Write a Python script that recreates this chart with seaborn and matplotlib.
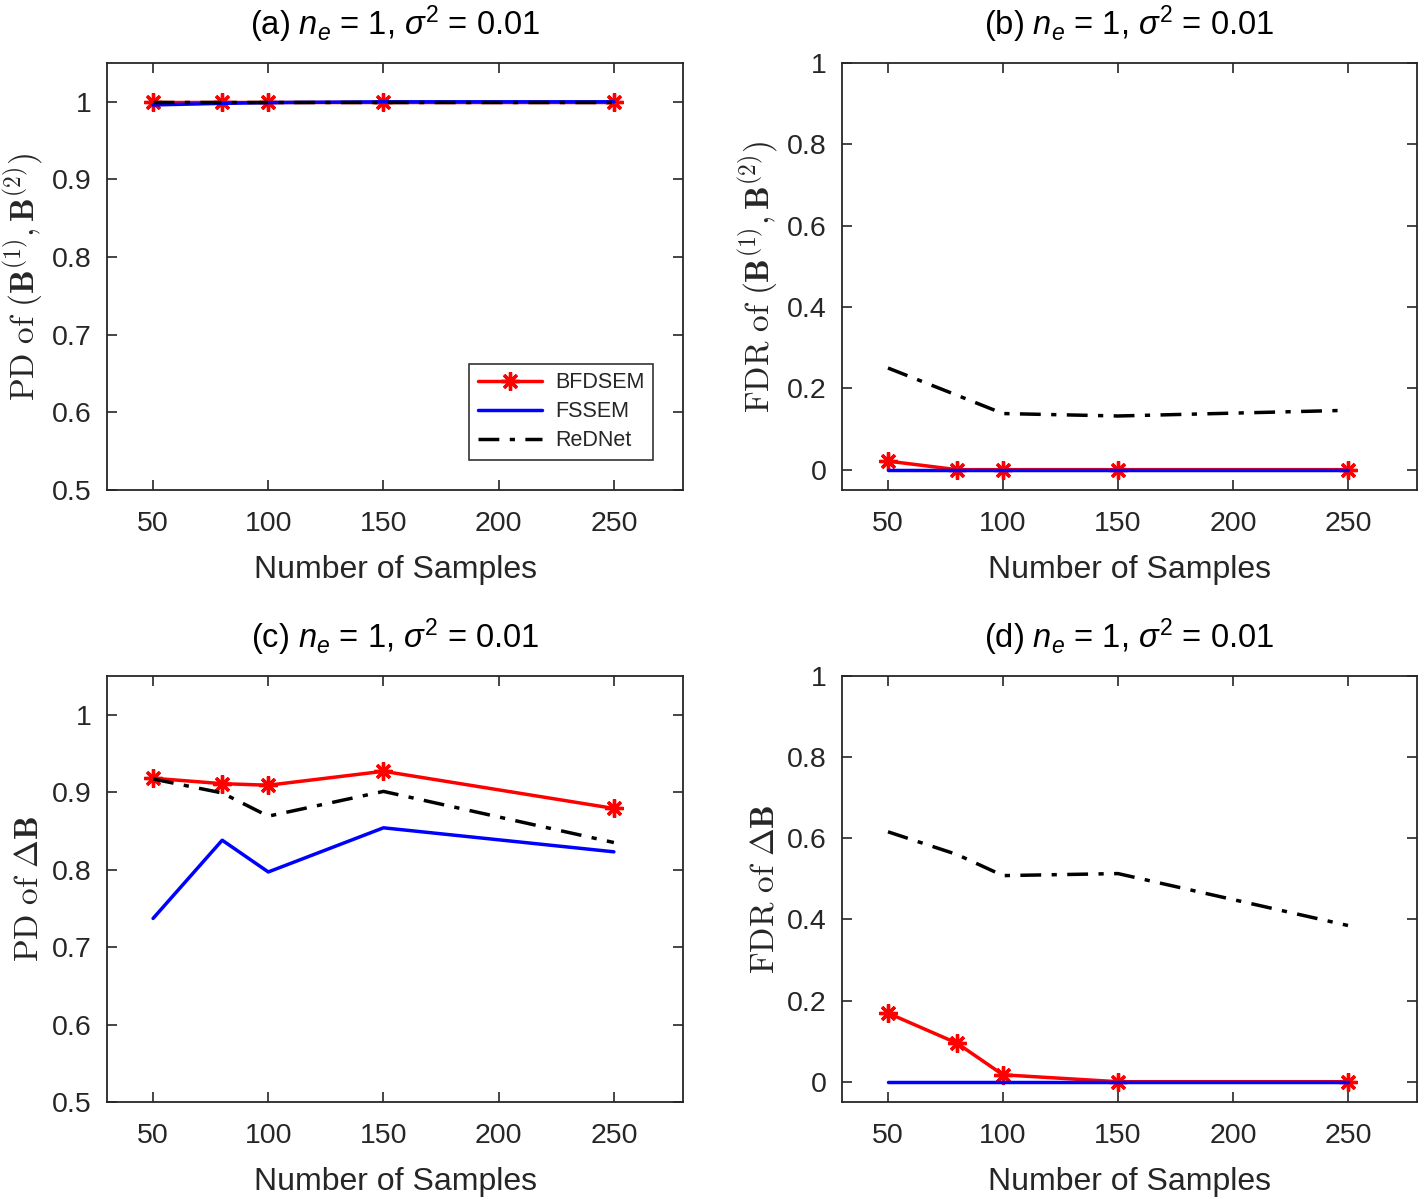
import numpy as np
import pandas as pd
import seaborn as sns
import matplotlib.pyplot as plt
from matplotlib.ticker import FormatStrFormatter

# sample sizes
samples = [50, 80, 100, 150, 250]
methods = ["BFDSEM", "FSSEM", "ReDNet"]

# (a) PD of B1,B2
pd_b_bfdsem = [1.0, 1.0, 1.0, 1.0, 1.0]
pd_b_fssem = [0.996, 0.998, 0.999, 1.0, 1.0]
pd_b_rednet = [1.0, 1.0, 1.0, 1.0, 1.0]

# (b) FDR of B1,B2
fdr_b_bfdsem = [0.021, 0.0, 0.0, 0.0, 0.0]
fdr_b_fssem = [0.0, 0.0, 0.0, 0.0, 0.0]
fdr_b_rednet = [0.25, 0.183, 0.138, 0.132, 0.146]

# (c) PD of delta B
pd_d_bfdsem = [0.918, 0.911, 0.909, 0.927, 0.879]
pd_d_fssem = [0.737, 0.838, 0.797, 0.854, 0.823]
pd_d_rednet = [0.917, 0.899, 0.869, 0.901, 0.835]

# (d) FDR of delta B
fdr_d_bfdsem = [0.169, 0.095, 0.017, 0.0, 0.0]
fdr_d_fssem = [0.0, 0.0, 0.0, 0.0, 0.0]
fdr_d_rednet = [0.616, 0.56, 0.508, 0.513, 0.385]

titles = [
    r"(a) $n_e$ = 1, $\sigma^2$ = 0.01",
    r"(b) $n_e$ = 1, $\sigma^2$ = 0.01",
    r"(c) $n_e$ = 1, $\sigma^2$ = 0.01",
    r"(d) $n_e$ = 1, $\sigma^2$ = 0.01",
]
ylabels = [
    r"$\mathrm{PD\ of\ }(\mathbf{B}^{(1)},\mathbf{B}^{(2)})$",
    r"$\mathrm{FDR\ of\ }(\mathbf{B}^{(1)},\mathbf{B}^{(2)})$",
    r"$\mathrm{PD\ of\ }\Delta\mathbf{B}$",
    r"$\mathrm{FDR\ of\ }\Delta\mathbf{B}$",
]


def make_df(bfdsem, fssem, rednet):
    dfs = []
    for name, vals in zip(methods, [bfdsem, fssem, rednet]):
        dfs.append(pd.DataFrame({"samples": samples, "value": vals, "method": name}))
    return pd.concat(dfs, ignore_index=True)


panels = [
    make_df(pd_b_bfdsem, pd_b_fssem, pd_b_rednet),
    make_df(fdr_b_bfdsem, fdr_b_fssem, fdr_b_rednet),
    make_df(pd_d_bfdsem, pd_d_fssem, pd_d_rednet),
    make_df(fdr_d_bfdsem, fdr_d_fssem, fdr_d_rednet),
]

sns.set_style("ticks")
plt.rcParams["font.family"] = ["Liberation Sans", "DejaVu Sans"]
plt.rcParams["mathtext.fontset"] = "custom"
plt.rcParams["mathtext.rm"] = "Liberation Sans"
plt.rcParams["mathtext.it"] = "Liberation Sans:italic"
plt.rcParams["mathtext.bf"] = "Liberation Sans:bold"

dark = "#262626"
styles = {
    "BFDSEM": dict(color="red", linestyle="-", marker=(8, 2, 0), markersize=13,
                   markeredgewidth=2.4, markeredgecolor="red"),
    "FSSEM": dict(color="blue", linestyle="-"),
    "ReDNet": dict(color="black", linestyle=(0, (6, 3, 1.5, 3))),
}

fig = plt.figure(figsize=(14.18, 12), dpi=100)
positions = [
    [107 / 1418, 1 - 490 / 1200, 576 / 1418, 427 / 1200],
    [842 / 1418, 1 - 490 / 1200, 575 / 1418, 427 / 1200],
    [107 / 1418, 1 - 1102 / 1200, 576 / 1418, 426 / 1200],
    [842 / 1418, 1 - 1102 / 1200, 575 / 1418, 426 / 1200],
]

for i, (df, pos) in enumerate(zip(panels, positions)):
    ax = fig.add_axes(pos)
    for m in methods:
        sns.lineplot(data=df[df["method"] == m], x="samples", y="value", ax=ax,
                     linewidth=2.5, label=m, **styles[m])
    ax.set_xlim(30, 280)
    ax.set_xticks([50, 100, 150, 200, 250])
    if i in (0, 2):
        ax.set_ylim(0.5, 1.05)
        ax.set_yticks([0.5, 0.6, 0.7, 0.8, 0.9, 1.0])
    else:
        ax.set_ylim(-0.05, 1.0)
        ax.set_yticks([0, 0.2, 0.4, 0.6, 0.8, 1.0])
    ax.yaxis.set_major_formatter(FormatStrFormatter("%g"))
    ax.tick_params(direction="in", top=True, right=True, length=7, width=1.2,
                   labelsize=20.5, colors=dark)
    ax.tick_params(axis="x", pad=15)
    ax.tick_params(axis="y", pad=11)
    for sp in ax.spines.values():
        sp.set_visible(True)
        sp.set_color(dark)
        sp.set_linewidth(1.3)
    ax.set_xlabel("Number of Samples", fontsize=23, color=dark, labelpad=13)
    ax.set_ylabel(ylabels[i], fontsize=24, color=dark, math_fontfamily="cm", labelpad=5)
    ax.set_title(titles[i], fontsize=23.5, color="black", pad=20)
    if i == 0:
        leg = ax.legend(loc="lower right", bbox_to_anchor=(0.948, 0.07), fontsize=15.5,
                        handlelength=3.0, frameon=True, fancybox=False,
                        edgecolor="black", borderpad=0.4, labelspacing=0.38,
                        handletextpad=0.6, borderaxespad=0)
        leg.get_frame().set_linewidth(1.2)
    else:
        ax.get_legend().remove()

plt.savefig("out.png", dpi=100)
